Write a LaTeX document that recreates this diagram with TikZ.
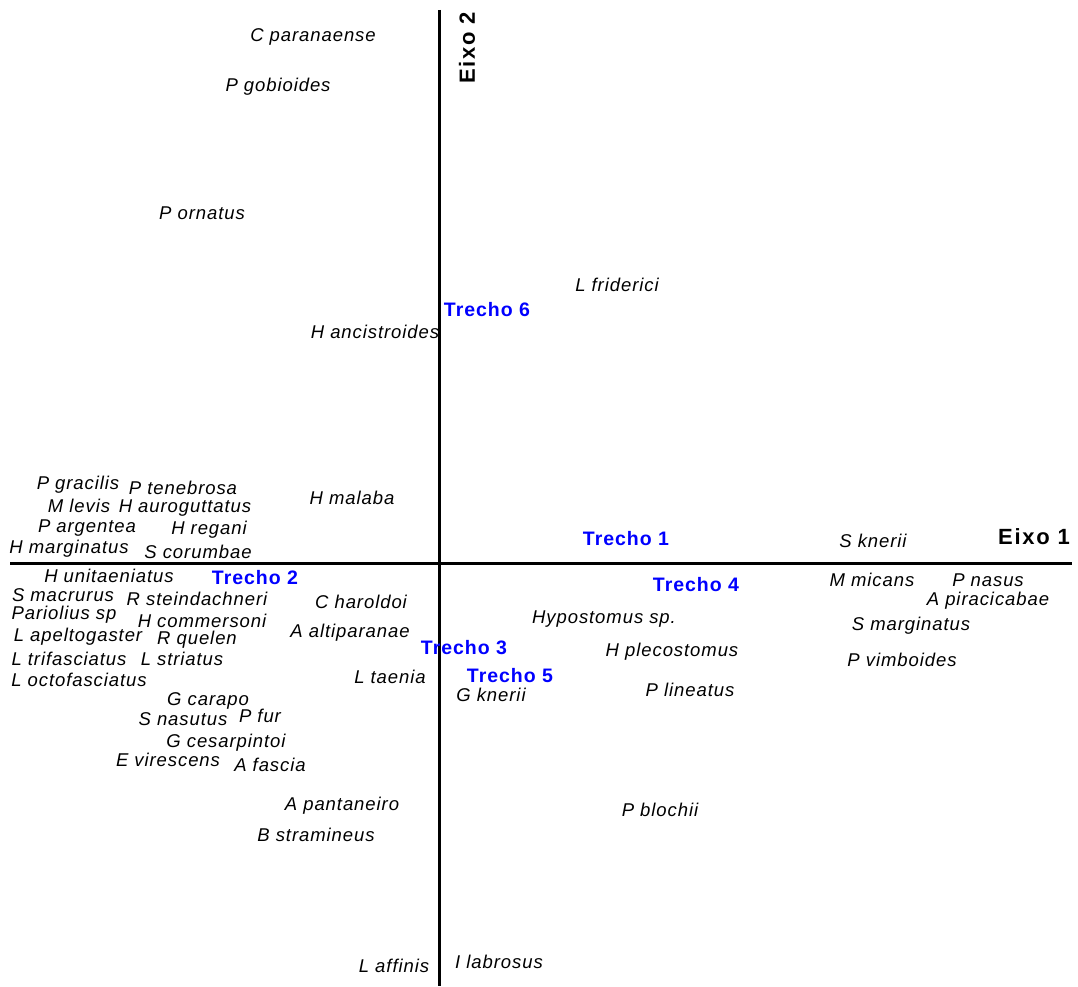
\documentclass[tikz,border=0pt]{standalone}
\usepackage{fontspec}
\setmainfont[LetterSpace=5]{Liberation Sans}
\newfontfamily\axisfont[LetterSpace=8]{Liberation Sans}
\usetikzlibrary{positioning}
\definecolor{TrechoBlue}{RGB}{0,0,255}

\begin{document}
\begin{tikzpicture}[
  x=1pt, y=-1pt,
  every node/.style={inner sep=0pt},
  species/.style={font=\fontsize{18.5}{22}\selectfont\itshape},
  trecho/.style={font=\fontsize{19.5}{23}\selectfont\bfseries, text=TrechoBlue},
  eixo/.style={font=\fontsize{22}{26}\selectfont\axisfont\bfseries},
  axis/.style={draw=black, line width=3pt}
]
\useasboundingbox (0,0) rectangle (1078,987);
% axes
\coordinate (xl) at (10,563);
\coordinate (xr) at (1072,563);
\coordinate (yt) at (439,10);
\coordinate (yb) at (439,986);
\draw[axis] (xl) -- (xr);
\draw[axis] (yt) -- (yb);
\node[eixo] (e1) at (1034,537) {Eixo 1};
\node[eixo, rotate=90] (e2) at (467,48) {Eixo 2};
% trechos
\node[trecho] (t1) at (626,539) {Trecho 1};
\node[trecho] (t2) at (255,578) {Trecho 2};
\node[trecho] (t3) at (464,648) {Trecho 3};
\node[trecho] (t4) at (696,585) {Trecho 4};
\node[trecho] (t5) at (510,676) {Trecho 5};
\node[trecho] (t6) at (487,310) {Trecho 6};
% upper left
\node[species] (cpar) at (313,37) {C paranaense};
\node[species] (pgob) at (278,87) {P gobioides};
\node[species] (porn) at (202,213) {P ornatus};
\node[species] (hanc) at (375,332) {H ancistroides};
\node[species] (pgra) at (78,485) {P gracilis};
\node[species] (pten) at (183,488) {P tenebrosa};
\node[species] (mlev) at (79,506) {M levis};
\node[species] (haur) at (185,508) {H auroguttatus};
\node[species] (parg) at (87,528) {P argentea};
\node[species] (hreg) at (209,530) {H regani};
\node[species] (hmar) at (69,549) {H marginatus};
\node[species] (scor) at (198,552) {S corumbae};
\node[species] (hmal) at (352,498) {H malaba};
% upper right
\node[species] (lfri) at (617,285) {L friderici};
\node[species] (skne) at (873,541) {S knerii};
% lower left
\node[species] (huni) at (109,576) {H unitaeniatus};
\node[species] (smac) at (63,595) {S macrurus};
\node[species] (rste) at (197,599) {R steindachneri};
\node[species] (char) at (361,602) {C haroldoi};
\node[species] (pari) at (64,615) {Pariolius sp};
\node[species] (hcom) at (202,621) {H commersoni};
\node[species] (lape) at (78,637) {L apeltogaster};
\node[species] (rque) at (197,640) {R quelen};
\node[species] (aalt) at (350,633) {A altiparanae};
\node[species] (ltri) at (69,659) {L trifasciatus};
\node[species] (lstr) at (182,659) {L striatus};
\node[species] (loct) at (79,680) {L octofasciatus};
\node[species] (ltae) at (390,677) {L taenia};
\node[species] (gcar) at (208,701) {G carapo};
\node[species] (snas) at (183,719) {S nasutus};
\node[species] (pfur) at (260,716) {P fur};
\node[species] (gces) at (226,743) {G cesarpintoi};
\node[species] (evir) at (168,760) {E virescens};
\node[species] (afas) at (270,765) {A fascia};
\node[species] (apan) at (342,806) {A pantaneiro};
\node[species] (bstr) at (316,835) {B stramineus};
\node[species] (laff) at (394,966) {L affinis};
% lower right
\node[species] (gkne) at (491,695) {G knerii};
\node[species] (hypo) at (604,619) {Hypostomus sp.};
\node[species] (hple) at (672,652) {H plecostomus};
\node[species] (plin) at (690,690) {P lineatus};
\node[species] (mmic) at (872,580) {M micans};
\node[species] (pnas) at (988,580) {P nasus};
\node[species] (apir) at (988,601) {A piracicabae};
\node[species] (smar) at (911,626) {S marginatus};
\node[species] (pvim) at (902,660) {P vimboides};
\node[species] (pblo) at (660,810) {P blochii};
\node[species] (ilab) at (499,962) {I labrosus};
\end{tikzpicture}
\end{document}
